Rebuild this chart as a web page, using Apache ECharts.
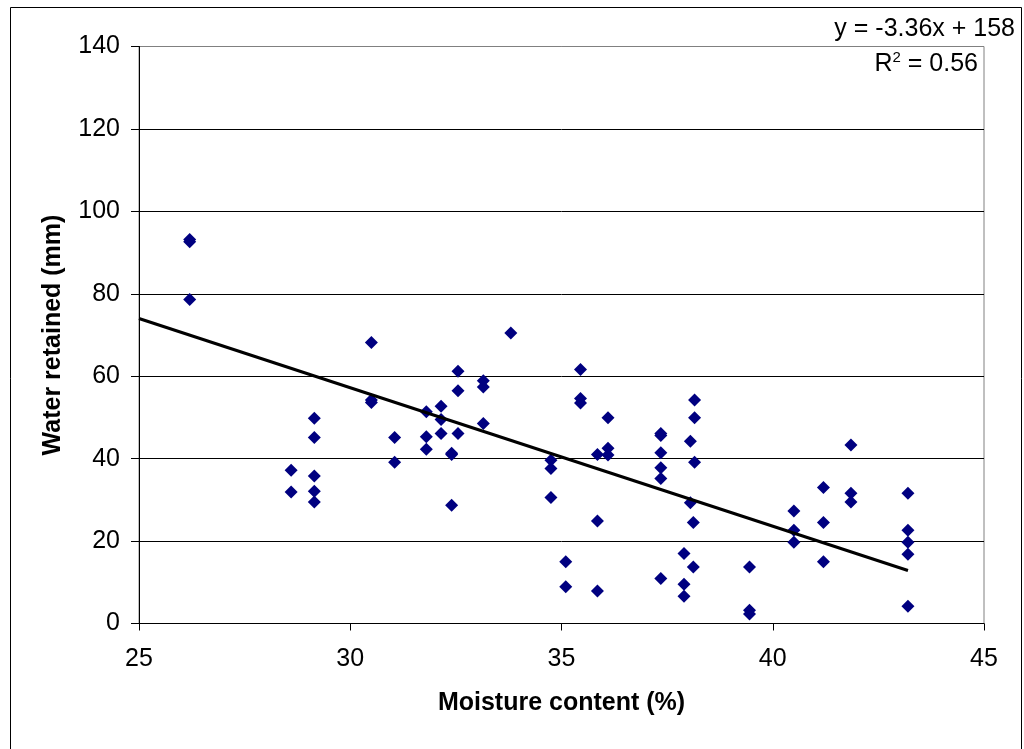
<!DOCTYPE html>
<html>
<head>
<meta charset="utf-8">
<script src="https://cdn.jsdelivr.net/npm/echarts@6/dist/echarts.min.js"></script>
<style>
html,body{margin:0;padding:0;background:#fff;}
#chart{width:1024px;height:749px;}
</style>
</head>
<body>
<div id="chart"></div>
<script>
// Moisture content (%) of each sample
const moisture = [
  26.2, 26.2, 26.2,
  28.6, 28.6,
  29.15, 29.15, 29.15, 29.15, 29.15,
  30.5, 30.5, 30.5,
  31.05, 31.05,
  31.8, 31.8, 31.8,
  32.15, 32.15, 32.15,
  32.4, 32.4, 32.4,
  32.55, 32.55, 32.55,
  33.15, 33.15, 33.15,
  33.8,
  34.75, 34.75, 34.75,
  35.1, 35.1,
  35.45, 35.45, 35.45,
  35.85, 35.85, 35.85,
  36.1, 36.1, 36.1,
  37.35, 37.35, 37.35, 37.35, 37.35, 37.35,
  37.9, 37.9, 37.9,
  38.05, 38.05,
  38.15, 38.15, 38.15, 38.12, 38.12,
  39.45, 39.45, 39.45,
  40.5, 40.5, 40.5,
  41.2, 41.2, 41.2,
  41.85, 41.85, 41.85,
  43.2, 43.2, 43.2, 43.2, 43.2
];
// Water retained (mm) of each sample
const waterRetained = [
  93.2, 92.6, 78.6,
  37.2, 31.9,
  49.8, 45.1, 35.8, 32.1, 29.5,
  68.2, 54.2, 53.6,
  45.1, 39.1,
  51.4, 45.3, 42.3,
  52.7, 49.5, 46.1,
  41.3, 41.0, 28.7,
  61.2, 56.5, 46.1,
  58.9, 57.4, 48.5,
  70.5,
  39.6, 37.6, 30.6,
  15.0, 8.9,
  61.6, 54.6, 53.5,
  41.0, 24.9, 7.9,
  49.9, 42.5, 40.9,
  46.1, 45.6, 41.4, 37.8, 35.2, 10.9,
  17.0, 9.5, 6.6,
  44.2, 29.3,
  54.2, 49.9, 39.1, 24.5, 13.7,
  13.7, 3.2, 2.3,
  27.3, 22.6, 19.7,
  33.0, 24.5, 15.0,
  43.3, 31.6, 29.5,
  31.6, 22.6, 19.7, 16.8, 4.2
];
// Linear trend line (as reported on the chart) and its x extent
const trendSlope = -3.36;
const trendIntercept = 158;
const trendX = [25, 43.2];
const trendLabel = 'y = -3.36x + 158';
const r2Value = '0.56';

const xTicks = {min: 25, max: 45, interval: 5};
const yTicks = {min: 0, max: 140, interval: 20};

const points = moisture.map((m, i) => [m, waterRetained[i]]);
const trendPoints = trendX.map(x => [x, trendSlope * x + trendIntercept]);

const chart = echarts.init(document.getElementById('chart'), null, {renderer: 'canvas'});
const FONT = 'Liberation Sans, Arial, sans-serif';
const FS = 25;
chart.setOption({
  animation: false,
  backgroundColor: '#fff',
  grid: {left: 139, right: 40, top: 46.5, bottom: 125.5, show: true, borderColor: '#808080', borderWidth: 1, backgroundColor: 'transparent'},
  xAxis: {
    type: 'value', min: xTicks.min, max: xTicks.max, interval: xTicks.interval,
    name: 'Moisture content (%)', nameLocation: 'middle', nameGap: 80,
    nameTextStyle: {fontFamily: FONT, fontSize: FS, fontWeight: 'bold', color: '#000', verticalAlign: 'middle'},
    axisLine: {show: true, lineStyle: {color: '#000', width: 1}},
    axisTick: {show: true, inside: false, length: 7, lineStyle: {color: '#000'}},
    axisLabel: {fontFamily: FONT, fontSize: FS, color: '#000', margin: 23},
    splitLine: {show: false}
  },
  yAxis: {
    type: 'value', min: yTicks.min, max: yTicks.max, interval: yTicks.interval,
    name: 'Water retained (mm)', nameLocation: 'middle', nameGap: 86,
    nameTextStyle: {fontFamily: FONT, fontSize: FS, fontWeight: 'bold', color: '#000', verticalAlign: 'middle'},
    axisLine: {show: true, lineStyle: {color: '#000', width: 1}},
    axisTick: {show: true, inside: false, length: 8, lineStyle: {color: '#000'}},
    axisLabel: {fontFamily: FONT, fontSize: FS, color: '#000', margin: 19},
    splitLine: {show: true, lineStyle: {color: ['#000','#000','#000','#000','#000','#000','#000','#808080'], width: 1}}
  },
  series: [
    {
      type: 'scatter', data: points, symbol: 'diamond', symbolSize: 13,
      itemStyle: {color: '#000080', opacity: 1}, z: 3
    },
    {
      type: 'line', data: trendPoints, symbol: 'none', showSymbol: false,
      lineStyle: {color: '#000', width: 3}, z: 4
    }
  ],
  graphic: [
    {type: 'rect', left: 8, top: 5, shape: {width: 1011, height: 760}, style: {fill: 'none', stroke: '#000', lineWidth: 1}, silent: true, z: 0},
    {type: 'text', z: 10, style: {x: 1015, y: 29, text: trendLabel, align: 'right', verticalAlign: 'middle', font: FS + 'px ' + FONT, fill: '#000'}},
    {type: 'text', z: 10, style: {x: 978, y: 64, align: 'right', verticalAlign: 'middle',
      text: 'R{sup|2} = ' + r2Value,
      font: FS + 'px ' + FONT, fill: '#000',
      rich: {sup: {fontSize: 15, fontFamily: FONT, verticalAlign: 'top', padding: [0, 0, 12, 0]}}}}
  ]
});
</script>
</body>
</html>
